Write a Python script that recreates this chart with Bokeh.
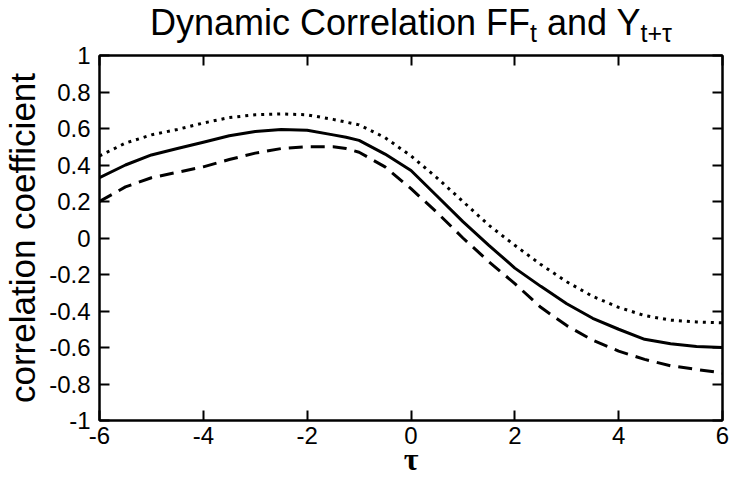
from bokeh.plotting import figure
from bokeh.models import Range1d, FixedTicker, LinearAxis, Div
from bokeh.layouts import column
from bokeh.embed import file_html
from bokeh.resources import INLINE

# ---- data ----
tau = [-6, -5.5, -5, -4.5, -4, -3.5, -3, -2.5, -2, -1.5, -1.25, -1, -0.5,
       0, 0.5, 1, 1.5, 2, 2.5, 3, 3.5, 4, 4.5, 5, 5.5, 6]
corr_mid = [0.33, 0.40, 0.455, 0.49, 0.525, 0.56, 0.583, 0.595, 0.59, 0.565, 0.552, 0.535, 0.46,
            0.37, 0.23, 0.09, -0.04, -0.165, -0.265, -0.36, -0.44, -0.50, -0.555, -0.58, -0.595, -0.60]
corr_upper = [0.45, 0.52, 0.565, 0.595, 0.63, 0.66, 0.675, 0.68, 0.675, 0.65, 0.635, 0.62, 0.55,
              0.45, 0.33, 0.20, 0.07, -0.04, -0.145, -0.24, -0.32, -0.38, -0.425, -0.45, -0.46, -0.465]
corr_lower = [0.20, 0.28, 0.33, 0.36, 0.39, 0.43, 0.465, 0.49, 0.50, 0.50, 0.49, 0.47, 0.39,
              0.27, 0.14, 0.0, -0.13, -0.25, -0.38, -0.48, -0.56, -0.62, -0.665, -0.70, -0.72, -0.74]

xticks = [-6, -4, -2, 0, 2, 4, 6]
xtick_labels = ["-6", "-4", "-2", "0", "2", "4", "6"]
yticks = [-1, -0.8, -0.6, -0.4, -0.2, 0, 0.2, 0.4, 0.6, 0.8, 1]
ytick_labels = ["-1", "-0.8", "-0.6", "-0.4", "-0.2", "0", "0.2", "0.4", "0.6", "0.8", "1"]

title_parts = ["Dynamic Correlation FF", "t", " and Y", "t+τ"]

FONT = "Liberation Sans"
W = 730

# ---- title (real text with subscripts) ----
sub = '<span style="font-size:25px;position:relative;top:7px">{}</span>'
title_html = (
    '<div style="font-family:\'Liberation Sans\',Arial,sans-serif;font-size:36px;line-height:36px;'
    'color:black;white-space:nowrap;padding-left:150px;padding-top:5px;margin:0;overflow:visible">'
    + title_parts[0] + sub.format(title_parts[1]) + title_parts[2] + sub.format(title_parts[3])
    + '</div>'
)
title_div = Div(text=title_html, width=W, height=38, margin=(0, 0, 0, 0),
                styles={"overflow": "visible", "z-index": "2"})

# ---- main plot ----
p = figure(width=W, height=443, output_backend="svg", toolbar_location=None,
           x_range=Range1d(-6, 6), y_range=Range1d(-1, 1),
           min_border_left=97, min_border_right=8, min_border_top=17, min_border_bottom=61)
p.xgrid.visible = False
p.ygrid.visible = False
p.outline_line_color = "black"
p.outline_line_width = 2
p.border_fill_alpha = 0
p.background_fill_color = "white"

def style_axis(ax, ticks, labels, show_labels, standoff):
    ax.ticker = FixedTicker(ticks=ticks)
    ax.major_tick_in = 10
    ax.major_tick_out = 0
    ax.minor_tick_line_color = None
    ax.major_tick_line_width = 2
    ax.axis_line_width = 2
    ax.axis_line_color = "black"
    ax.major_tick_line_color = "black"
    ax.major_label_text_font = FONT
    ax.major_label_text_color = "black"
    if show_labels:
        ax.major_label_overrides = {t: l for t, l in zip(ticks, labels)}
        ax.major_label_text_font_size = "24px"
        ax.major_label_standoff = standoff
    else:
        ax.major_label_overrides = {t: "" for t in ticks}
        ax.major_label_text_font_size = "1px"
        ax.major_label_standoff = 0

style_axis(p.xaxis[0], xticks, xtick_labels, True, 6)
style_axis(p.yaxis[0], yticks, ytick_labels, True, 9)
p.xaxis[0].axis_label = "τ"
p.xaxis[0].axis_label_text_font = "Liberation Serif"
p.xaxis[0].axis_label_text_font_size = "32px"
p.xaxis[0].axis_label_text_font_style = "bold"
p.xaxis[0].axis_label_text_color = "black"
p.xaxis[0].axis_label_standoff = -6
p.yaxis[0].axis_label = "correlation coefficient"
p.yaxis[0].axis_label_text_font = FONT
p.yaxis[0].axis_label_text_font_size = "35px"
p.yaxis[0].axis_label_text_font_style = "normal"
p.yaxis[0].axis_label_text_color = "black"
p.yaxis[0].axis_label_standoff = 4

top = LinearAxis()
style_axis(top, xticks, xtick_labels, False, 0)
p.add_layout(top, "above")
right = LinearAxis()
style_axis(right, yticks, ytick_labels, False, 0)
p.add_layout(right, "right")

p.line(tau, corr_upper, line_color="black", line_width=3, line_dash="3 5")
p.line(tau, corr_mid, line_color="black", line_width=3)
p.line(tau, corr_lower, line_color="black", line_width=3, line_dash="14 8")

open("out.html", "w").write(file_html(column(title_div, p, spacing=0), INLINE))
